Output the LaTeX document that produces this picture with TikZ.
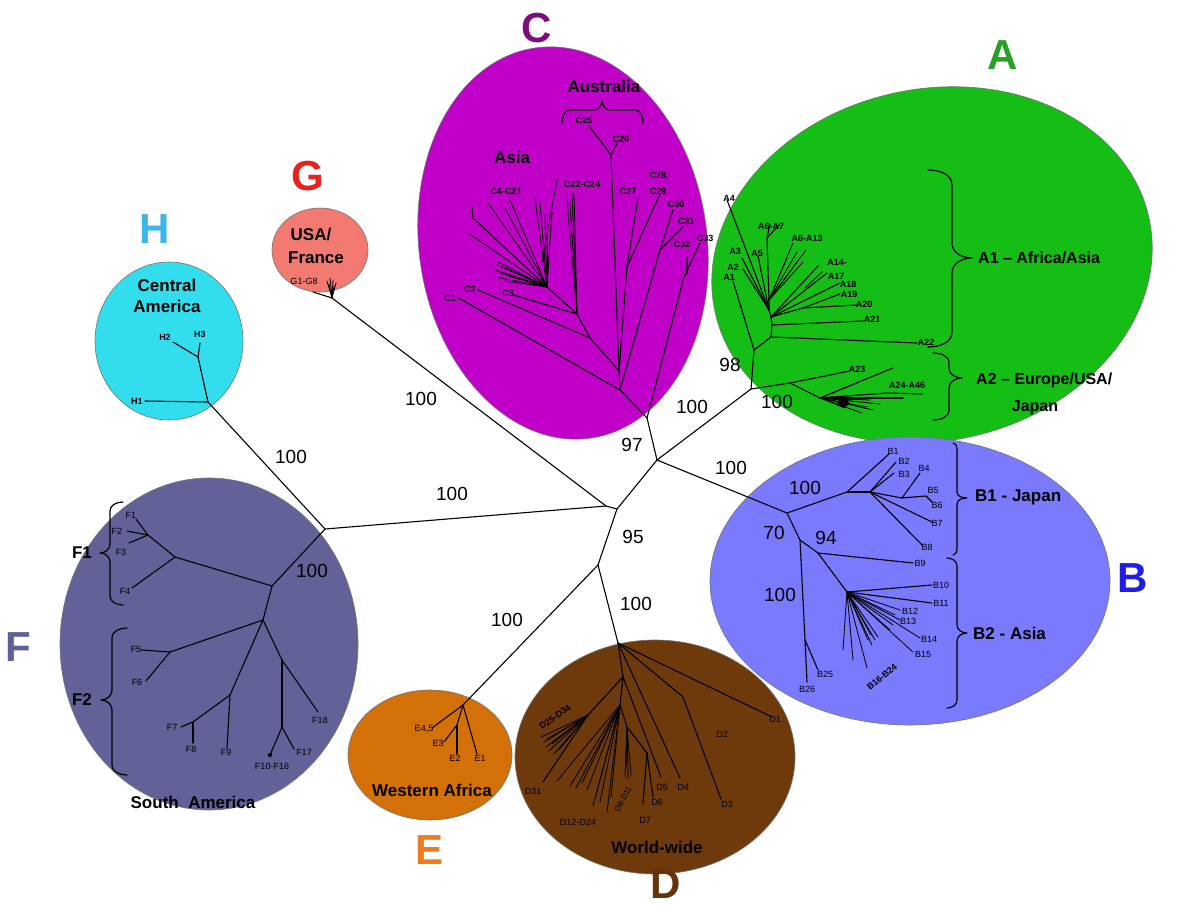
\documentclass[tikz,border=0pt]{standalone}
\usepackage{fontspec}
\setmainfont{Liberation Sans}
\usetikzlibrary{calc}
\definecolor{fillA}{RGB}{20,190,20}
\definecolor{fillB}{RGB}{122,122,255}
\definecolor{fillC}{RGB}{192,0,200}
\definecolor{fillD}{RGB}{110,58,12}
\definecolor{fillE}{RGB}{212,112,8}
\definecolor{fillF}{RGB}{98,98,152}
\definecolor{fillG}{RGB}{242,122,112}
\definecolor{fillH}{RGB}{50,222,238}
\definecolor{letA}{RGB}{40,160,40}
\definecolor{letB}{RGB}{30,30,230}
\definecolor{letC}{RGB}{128,10,128}
\definecolor{letD}{RGB}{100,52,12}
\definecolor{letE}{RGB}{240,122,30}
\definecolor{letF}{RGB}{96,96,150}
\definecolor{letG}{RGB}{232,32,30}
\definecolor{letH}{RGB}{60,182,232}
\newcommand\mybraceR[7]{% x0 yt yb xm xt ym r
  \draw[brc] (#1,#2) to[out=0,in=90] (#4,#2+#7) -- (#4,#6-#7) to[out=-90,in=180] (#5,#6)
    to[out=180,in=90] (#4,#6+#7) -- (#4,#3-#7) to[out=-90,in=0] (#1,#3);}
\newcommand\mybraceL[7]{% x0 yt yb xm xt ym r
  \draw[brc] (#1,#2) to[out=180,in=90] (#4,#2+#7) -- (#4,#6-#7) to[out=-90,in=0] (#5,#6)
    to[out=0,in=90] (#4,#6+#7) -- (#4,#3-#7) to[out=-90,in=180] (#1,#3);}
\begin{document}
\begin{tikzpicture}[x=1pt,y=-1pt, line cap=round, line join=round,
  br/.style={line width=1.1pt, black},
  fine/.style={line width=0.8pt, black},
  brc/.style={line width=1.2pt, black},
  lf/.style={font=\fontsize{9}{9}\selectfont, inner sep=0pt},
  lfb/.style={font=\bfseries\fontsize{9}{9}\selectfont, inner sep=0pt},
  boot/.style={font=\fontsize{19}{19}\selectfont, inner sep=0pt},
  reg/.style={font=\bfseries\fontsize{17}{21}\selectfont, inner sep=0pt, align=center},
  big/.style={font=\bfseries\fontsize{42}{42}\selectfont, inner sep=0pt},
  blob/.style={draw=black!55, line width=0.6pt},
]
\useasboundingbox (0,0) rectangle (1188,905);
\fill[white] (0,0) rectangle (1188,905);

% ---------------- clade ellipses ----------------
\filldraw[blob, fill=fillA, rotate around={12:(932,265)}] (932,265) ellipse [x radius=222pt, y radius=176pt];
\filldraw[blob, fill=fillB] (910,581) ellipse [x radius=200pt, y radius=144pt];
\filldraw[blob, fill=fillC, rotate around={8:(563,243)}] (563,243) ellipse [x radius=144pt, y radius=197pt];
\filldraw[blob, fill=fillF] (209,644) ellipse [x radius=149pt, y radius=166pt];
\filldraw[blob, fill=fillH] (169,341) ellipse [x radius=74pt, y radius=79pt];
\filldraw[blob, fill=fillG] (320,250) ellipse [x radius=48pt, y radius=42pt];
\filldraw[blob, fill=fillE] (430,755) ellipse [x radius=82pt, y radius=65pt];
\filldraw[blob, fill=fillD] (655,757) ellipse [x radius=140pt, y radius=117pt];

% ---------------- clade letters ----------------
\node[big, text=letC] (LC) at (537,28) {C};
\node[big, text=letA] (LA) at (1003,55) {A};
\node[big, text=letG] (LG) at (308,176) {G};
\node[big, text=letH] (LH) at (155,229) {H};
\node[big, text=letB] (LB) at (1133,578) {B};
\node[big, text=letF] (LF) at (18,647) {F};
\node[big, text=letE] (LE) at (430,850) {E};
\node[big, text=letD] (LD) at (666,884) {D};

% ---------------- backbone ----------------
\coordinate (c0) at (606,506);
\coordinate (c1) at (617,509);
\coordinate (u) at (657,460);
\coordinate (Croot) at (647,418);
\coordinate (ajn) at (751,389);
\coordinate (A1r) at (754,350);
\coordinate (A2r) at (790,383);
\coordinate (Bjn) at (787,513);
\coordinate (dn) at (598,565);
\coordinate (Droot) at (618,643);
\coordinate (Eroot) at (463,705);
\coordinate (FH) at (325,529);
\coordinate (Hn) at (208,402);
\coordinate (Gn) at (332,298);

\draw[br] (Gn) -- (c0);
\draw[br] (FH) -- (c0);
\draw[br] (c0) -- (c1);
\draw[br] (c1) -- (u);
\draw[br] (u) -- (Croot);
\draw[br] (u) -- (ajn);
\draw[br] (ajn) -- (A1r);
\draw[br] (ajn) -- (A2r);
\draw[br] (u) -- (Bjn);
\draw[br] (c1) -- (dn);
\draw[br] (dn) -- (Droot);
\draw[br] (dn) -- (Eroot);
\draw[br] (Hn) -- (FH);

% bootstrap values
\node[boot] (b1) at (421,399) {100};
\node[boot] (b2) at (291,457) {100};
\node[boot] (b3) at (452,494) {100};
\node[boot] (b4) at (312,571) {100};
\node[boot] (b5) at (692,407) {100};
\node[boot] (b6) at (632,445) {97};
\node[boot] (b7) at (731,468) {100};
\node[boot] (b8) at (633,537) {95};
\node[boot] (b9) at (636,604) {100};
\node[boot] (b10) at (507,620) {100};
\node[boot] (b11) at (730,365) {98};
\node[boot] (b12) at (777,402) {100};
\node[boot] (b13) at (805,488) {100};
\node[boot] (b14) at (774,533) {70};
\node[boot] (b15) at (826,538) {94};
\node[boot] (b16) at (780,595) {100};

% ---------------- clade G ----------------
\coordinate (g1) at (313,292);
\draw[br] (Gn) -- (g1);
\foreach \p in {(327,281),(330,278),(333,280),(336,283),(329,284),(334,286)}
  \draw[fine] (Gn) -- \p;
\node[reg] (usa) at (311,235) {USA/};
\node[reg] (fra) at (316,258) {France};
\node[lf] (lG) at (304,281) {G1-G8};

% ---------------- clade H ----------------
\coordinate (hh) at (198,357);
\coordinate (tH1) at (145,401);
\coordinate (tH2) at (173,342);
\coordinate (tH3) at (200,343);
\draw[br] (Hn) -- (tH1);
\draw[br] (Hn) -- (hh);
\draw[br] (hh) -- (tH2);
\draw[br] (hh) -- (tH3);
\node[lfb] (lH1) at (137,401) {H1};
\node[lfb] (lH2) at (165,337) {H2};
\node[lfb] (lH3) at (200,334) {H3};
\node[reg] (cam) at (167,296) {Central\\America};

% ---------------- clade F ----------------
\coordinate (f1) at (272,586);
\coordinate (fa) at (175,557);
\coordinate (fb) at (148,535);
\coordinate (f2) at (263,620);
\coordinate (f56) at (170,652);
\coordinate (f3) at (230,695);
\coordinate (f78) at (193,722);
\coordinate (f4) at (282,660);
\coordinate (f5) at (282,727);
\draw[br] (FH) -- (f1);
\draw[br] (f1) -- (fa);
\draw[br] (fa) -- (fb);
\draw[br] (fb) -- (136,519);
\draw[br] (fb) -- (127,531);
\draw[br] (fb) -- (129,543);
\draw[br] (fa) -- (132,588);
\draw[br] (f1) -- (f2);
\draw[br] (f2) -- (f56);
\draw[br] (f56) -- (141,650);
\draw[br] (f56) -- (146,681);
\draw[br] (f2) -- (f3);
\draw[br] (f3) -- (f78);
\draw[br] (f78) -- (181,727);
\draw[br] (f78) -- (193,743);
\draw[br] (f3) -- (227,748);
\draw[br] (f2) -- (f4);
\draw[br] (f4) -- (318,712);
\draw[br] (f4) -- (f5);
\draw[br] (f5) -- (270,755);
\draw[br] (f5) -- (294,749);
\fill (270,755) circle (2.2pt);
\node[lf] (lF1) at (131,515) {F1};
\node[lf] (lF2) at (117,531) {F2};
\node[lf] (lF3) at (121,552) {F3};
\node[lf] (lF4) at (125,591) {F4};
\node[lf] (lF5) at (136,649) {F5};
\node[lf] (lF6) at (137,682) {F6};
\node[lf] (lF7) at (172,727) {F7};
\node[lf] (lF8) at (191,749) {F8};
\node[lf] (lF9) at (226,752) {F9};
\node[lf] (lF10) at (272,766) {F10-F16};
\node[lf] (lF17) at (304,752) {F17};
\node[lf] (lF18) at (320,720) {F18};
\mybraceL{123}{502}{605}{110}{100}{553}{9}
\mybraceL{127}{628}{775}{112}{101}{700}{10}
\node[reg] (F1l) at (82,553) {F1};
\node[reg] (F2l) at (82,700) {F2};
\node[reg] (sam) at (193,802) {South~~America};

% ---------------- clade E ----------------
\coordinate (e1) at (457,725);
\draw[br] (Eroot) -- (432,728);
\draw[br] (Eroot) -- (e1);
\draw[br] (e1) -- (444,742);
\draw[br] (e1) -- (457,754);
\draw[br] (Eroot) -- (477,754);
\node[lf] (lE45) at (424,729) {E4,5};
\node[lf] (lE3) at (438,743) {E3};
\node[lf] (lE2) at (455,758) {E2};
\node[lf] (lE1) at (480,758) {E1};
\node[reg] (waf) at (432,790) {Western Africa};

% ---------------- clade D ----------------
\coordinate (d1) at (623,677);
\coordinate (d2) at (683,697);
\coordinate (d3) at (620,705);
\coordinate (d4) at (627,727);
\coordinate (d6) at (647,753);
\coordinate (d25) at (588,715);
\draw[br] (Droot) -- (772,717);
\draw[br] (Droot) -- (d2);
\draw[br] (d2) -- (721,799);
\draw[br] (Droot) -- (680,778);
\draw[br] (Droot) -- (d1);
\draw[br] (d1) -- (661,777);
\draw[br] (d1) -- (d3);
\draw[br] (d1) -- (d25);
\foreach \p in {(541,737),(544,742),(546,747),(549,751),(554,754),(559,750),(552,744),(547,739)}
  \draw[fine] (d25) -- \p;
\draw[br] (d25) -- (543,782);
\foreach \p in {(557,781),(570,786),(576,788),(582,783),(587,790),(593,806),(600,802),(607,812),(611,797),(596,795)}
  \draw[fine] (d3) -- \p;
\draw[br] (d3) -- (d4);
\foreach \p in {(625,777),(628,779),(631,775),(626,768)}
  \draw[fine] (d4) -- \p;
\draw[br] (d4) -- (d6);
\draw[br] (d6) -- (643,804);
\draw[br] (d6) -- (653,797);
\node[lf] (lD1) at (775,719) {D1};
\node[lf] (lD2) at (722,734) {D2};
\node[lf] (lD3) at (727,804) {D3};
\node[lf] (lD4) at (683,787) {D4};
\node[lf] (lD5) at (662,787) {D5};
\node[lf] (lD6) at (657,802) {D6};
\node[lf] (lD7) at (645,820) {D7};
\node[lf, rotate=62, font=\fontsize{8}{8}\selectfont] (lD8) at (623,799) {D8-D11};
\node[lf] (lD12) at (578,822) {D12-D24};
\node[lf] (lD31) at (533,791) {D31};
\node[lfb, rotate=35] (lD25) at (555,717) {D25-D34};
\node[reg] (wwd) at (657,847) {World-wide};

% ---------------- clade C ----------------
\coordinate (n1) at (620,390);
\coordinate (n2) at (619,371);
\coordinate (n3) at (590,338);
\coordinate (n4) at (577,314);
\coordinate (n5) at (547,287);
\coordinate (c25n) at (611,155);
\coordinate (c27n) at (627,267);
\coordinate (c30n) at (660,250);
\coordinate (c32n) at (684,277);
\draw[br] (Croot) -- (n1);
\draw[br] (n1) -- (n2);
\draw[br] (n1) -- (457,297);
\draw[br] (Croot) -- (c32n) -- (700,243);
\draw[br] (c32n) -- (687,273) -- (687,258);
\draw[br] (n1) -- (c30n) -- (673,210);
\draw[br] (c30n) -- (683,227);
\draw[br] (n2) -- (c25n);
\draw[br] (c25n) -- (589,126);
\draw[br] (c25n) -- (617,143);
\draw[br] (n2) -- (c27n);
\draw[br] (c27n) -- (638,198);
\draw[br] (c27n) -- (660,194);
\draw[br] (n2) -- (n3);
\draw[br] (n3) -- (478,290);
\draw[br] (n3) -- (n4);
\draw[br] (n4) -- (513,295);
\draw[br] (n4) -- (n5);
\foreach \p in {(567,200),(572,193),(574,194),(570,203)}
  \draw[fine] (n4) -- \p;
\draw[br] (n5) -- (473,218) -- (472,207);
\foreach \p in {(468,233),(488,203),(505,208),(510,200),(535,198),(540,203),(547,208),(552,212),(545,215)}
  \draw[fine] (n5) -- \p;
\foreach \p in {(497,265),(495,270),(495,277),(500,273),(503,267),(498,262),(505,281),(509,276)}
  \draw[fine] (n5) -- \p;
\draw[fine] (542,262) -- (557,180);
\node[lfb] (lC1) at (450,298) {C1};
\node[lfb] (lC2) at (470,289) {C2};
\node[lfb] (lC3) at (508,293) {C3};
\node[lfb] (lC4) at (506,191) {C4-C21};
\node[lfb] (lC22) at (582,184) {C22-C24};
\node[lfb] (lC25) at (584,120) {C25};
\node[lfb] (lC26) at (621,139) {C26};
\node[lfb] (lC27) at (628,191) {C27};
\node[lfb] (lC28) at (659,176) {C28,};
\node[lfb] (lC29) at (658,191) {C29};
\node[lfb] (lC30) at (676,204) {C30};
\node[lfb] (lC31) at (686,221) {C31};
\node[lfb] (lC32) at (682,244) {C32};
\node[lfb] (lC33) at (705,238) {C33};
\node[reg] (asia) at (512,157) {Asia};
\node[reg] (aus) at (604,86) {Australia};
\draw[brc] (562,123) to[out=90,in=180] (570,110) -- (594,110) to[out=0,in=-90] (602,100)
  to[out=-90,in=180] (610,110) -- (635,110) to[out=0,in=90] (643,123);

% ---------------- clade A ----------------
\coordinate (a1) at (771,337);
\coordinate (a2) at (772,325);
\coordinate (a3) at (771,317);
\coordinate (aS) at (769,310);
\coordinate (a4) at (769,300);
\coordinate (a5) at (803,308);
\coordinate (a6) at (767,238);
\draw[br] (A1r) -- (733,281);
\draw[br] (A1r) -- (a1) -- (a2) -- (a3) -- (aS) -- (a4) -- (a6);
\draw[br] (a1) -- (917,343);
\draw[br] (a2) -- (863,321);
\draw[br] (a3) -- (a5);
\draw[br] (a5) -- (857,305);
\draw[br] (a5) -- (840,294);
\draw[br] (a3) -- (840,283);
\draw[br] (a3) -- (827,273);
\draw[br] (a3) -- (818,266);
\draw[fine] (805,288) -- (822,272);
\draw[br] (aS) -- (727,200);
\draw[br] (aS) -- (758,256);
\draw[br] (aS) -- (742,258);
\draw[br] (aS) -- (743,269);
\foreach \p in {(793,243),(797,252),(806,250),(787,258),(800,258),(803,262)}
  \draw[fine] (a4) -- \p;
\draw[br] (a6) -- (770,224);
\draw[br] (a6) -- (780,224);
\coordinate (a2b) at (820,398);
\draw[br] (A2r) -- (850,371);
\draw[br] (A2r) -- (a2b);
\draw[br] (a2b) -- (893,368);
\draw[br] (a2b) -- (887,393) -- (922,394);
\draw[br] (a2b) -- (903,398);
\foreach \p in {(873,410),(867,407),(857,383),(880,404),(862,413),(852,400),(870,400),(858,395),(845,408)}
  \draw[fine] (a2b) -- \p;
\fill (843,403) ellipse [x radius=6pt, y radius=4pt];
\node[lfb] (lA1) at (729,277) {A1};
\node[lfb] (lA2) at (733,267) {A2};
\node[lfb] (lA3) at (735,251) {A3};
\node[lfb] (lA4) at (729,198) {A4};
\node[lfb] (lA5) at (757,253) {A5};
\node[lfb] (lA6) at (771,226) {A6-A7};
\node[lfb] (lA8) at (807,238) {A8-A13};
\node[lfb] (lA14) at (837,262) {A14-};
\node[lfb] (lA17) at (836,276) {A17};
\node[lfb] (lA18) at (848,284) {A18};
\node[lfb] (lA19) at (849,294) {A19};
\node[lfb] (lA20) at (864,304) {A20};
\node[lfb] (lA21) at (872,319) {A21};
\node[lfb] (lA22) at (926,342) {A22};
\node[lfb] (lA23) at (857,369) {A23};
\node[lfb] (lA24) at (907,385) {A24-A46};
\mybraceR{928}{170}{347}{952}{972}{258}{15}
\mybraceR{933}{353}{420}{949}{962}{378}{10}
\node[reg, anchor=west, font=\bfseries\fontsize{16}{20}\selectfont] (A1l) at (978,258) {A1 -- Africa/Asia};
\node[reg, anchor=west, font=\bfseries\fontsize{16}{20}\selectfont] (A2l) at (976,380) {A2 -- Europe/USA/};
\node[reg, font=\bfseries\fontsize{16}{20}\selectfont] (A2j) at (1035,408) {Japan};

% ---------------- clade B ----------------
\coordinate (bB1) at (847,492);
\coordinate (bq) at (800,540);
\coordinate (bB2a) at (818,553);
\coordinate (bB2) at (847,592);
\coordinate (bb1) at (870,492);
\coordinate (bb4) at (902,498);
\coordinate (bb25) at (805,640);
\draw[br] (Bjn) -- (bB1);
\draw[br] (Bjn) -- (bq);
\draw[br] (bq) -- (bB2a);
\draw[br] (bq) -- (bb25) -- (807,682);
\draw[br] (bb25) -- (818,670);
\draw[br] (bB2a) -- (913,563);
\draw[br] (bB2a) -- (bB2);
\draw[br] (bB1) -- (889,454);
\draw[br] (bB1) -- (bb1);
\draw[br] (bb1) -- (896,462);
\draw[br] (bb1) -- (894,473);
\draw[br] (bb1) -- (bb4);
\draw[br] (bb4) -- (920,473);
\draw[br] (bb4) -- (926,496);
\draw[br] (926,496) -- (932,502);
\draw[br] (bb1) -- (932,522);
\draw[br] (bb1) -- (922,545);
\draw[br] (bB2) -- (932,585);
\draw[br] (bB2) -- (932,603);
\foreach \p in {(900,610),(900,620),(920,638),(913,652),(895,615),(893,625),(890,630)}
  \draw[fine] (bB2) -- \p;
\foreach \p in {(843,650),(853,660),(867,668),(868,640),(872,645),(875,640),(878,637),(871,635)}
  \draw[fine] (bB2) -- \p;
\node[lf] (lB1) at (893,451) {B1};
\node[lf] (lB2) at (904,461) {B2};
\node[lf] (lB3) at (904,474) {B3};
\node[lf] (lB4) at (924,468) {B4};
\node[lf] (lB5) at (933,490) {B5};
\node[lf] (lB6) at (937,505) {B6};
\node[lf] (lB7) at (937,523) {B7};
\node[lf] (lB8) at (927,547) {B8};
\node[lf] (lB9) at (920,563) {B9};
\node[lf] (lB10) at (941,585) {B10};
\node[lf] (lB11) at (941,603) {B11};
\node[lf] (lB12) at (910,611) {B12};
\node[lf] (lB13) at (908,621) {B13};
\node[lf] (lB14) at (929,639) {B14};
\node[lf] (lB15) at (923,654) {B15};
\node[lf] (lB25) at (825,674) {B25};
\node[lf] (lB26) at (807,689) {B26};
\node[lfb, rotate=40] (lB16) at (882,677) {B16-B24};
\mybraceR{953}{443}{555}{957}{967}{498}{6}
\mybraceR{947}{558}{708}{957}{967}{633}{8}
\node[reg, anchor=west] (B1l) at (975,497) {B1 - Japan};
\node[reg, anchor=west] (B2l) at (973,633) {B2 - Asia};
\end{tikzpicture}
\end{document}
